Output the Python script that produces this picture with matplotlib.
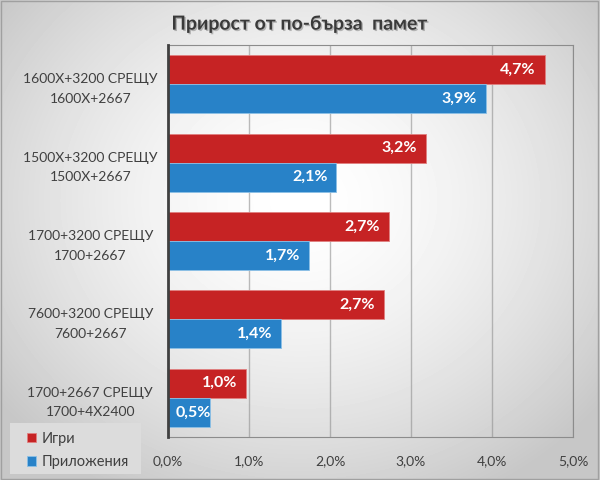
import numpy as np
import matplotlib.pyplot as plt
import matplotlib.patheffects as pe

categories = ['1600X+3200 СРЕЩУ\n1600X+2667',
              '1500X+3200 СРЕЩУ\n1500X+2667',
              '1700+3200 СРЕЩУ\n1700+2667',
              '7600+3200 СРЕЩУ\n7600+2667',
              '1700+2667 СРЕЩУ\n1700+4X2400']
games = [4.65, 3.18, 2.73, 2.67, 0.96]
apps = [3.92, 2.08, 1.74, 1.40, 0.52]
series_names = ['Игри', 'Приложения']
ticks = [0, 1, 2, 3, 4, 5]

red = '#C62324'
blue = '#2882C8'
plt.rcParams['font.family'] = ['Lato', 'DejaVu Sans']

fig = plt.figure(figsize=(6, 4.8), dpi=100)

# radial grey background
bg = fig.add_axes([0, 0, 1, 1], zorder=-10)
yy, xx = np.mgrid[0:480, 0:600]
r = np.sqrt(((xx - 300) / 380.0) ** 2 + ((yy - 200) / 330.0) ** 2)
shade = 1.0 - 0.22 * np.clip(r, 0, 1) ** 1.6
bg.imshow(shade, cmap='gray', vmin=0, vmax=1, aspect='auto')
bg.axis('off')
fig.patches.append(plt.Rectangle((0.002, 0.002), 0.995, 0.995, transform=fig.transFigure,
                                 fill=False, edgecolor='#A0A0A0', lw=1))

ax = fig.add_axes([168 / 600, 1 - 437 / 480, (573 - 168) / 600, (437 - 45) / 480])
ax.patch.set_alpha(0)

y = np.arange(len(categories))
h = 0.37
b1 = ax.barh(y - h / 2, games, height=h, color=red, edgecolor='#E08080', lw=0.6, label=series_names[0], zorder=3)
b2 = ax.barh(y + h / 2, apps, height=h, color=blue, edgecolor='#8CC0E6', lw=0.6, label=series_names[1], zorder=3)

for bars, vals in ((b1, games), (b2, apps)):
    for bar, v in zip(bars, vals):
        txt = ('%.1f%%' % v).replace('.', ',')
        yc = bar.get_y() + bar.get_height() / 2
        if v < 0.8:
            ax.text(0.09, yc, txt, ha='left', va='center', color='white',
                    fontsize=11.5, fontweight='bold', zorder=4)
        else:
            ax.text(v - 0.11, yc, txt, ha='right', va='center', color='white',
                    fontsize=11.5, fontweight='bold', zorder=4)

ax.set_ylim(len(categories) - 0.5, -0.5)
ax.set_xlim(0, 5)
ax.set_xticks(ticks)
ax.set_xticklabels([('%.1f%%' % t).replace('.', ',') for t in ticks], fontsize=10, color='#404040')
ax.set_yticks(y)
ax.set_yticklabels(categories, fontsize=10, color='#404040', linespacing=1.75, ha='center')
ax.tick_params(axis='y', length=0, pad=56)
ax.tick_params(axis='x', length=0, pad=13)
ax.xaxis.grid(True, color='#909090', alpha=0.6, lw=1, zorder=0)

for s in ('top', 'right', 'bottom'):
    ax.spines[s].set_color('#8C8C8C')
ax.spines['left'].set_color('#404040')
ax.spines['left'].set_linewidth(2)
ax.spines['left'].set_zorder(5)

fig.text(0.5, 1 - 24 / 480, 'Прирост от по-бърза  памет', ha='center', va='center',
         fontsize=14, fontweight='bold', color='#3A3A3A',
         path_effects=[pe.withSimplePatchShadow(offset=(1, -1), alpha=0.25)])

# legend box
fig.patches.append(plt.Rectangle((10 / 600, 1 - 474 / 480), 131 / 600, 51 / 480,
                                 transform=fig.transFigure, facecolor='#DCDCDC',
                                 edgecolor='none', zorder=1))
leg = fig.legend(loc='upper left', bbox_to_anchor=(15 / 600, 1 - 420 / 480), frameon=False,
                 fontsize=10.5, handlelength=0.65, handleheight=0.65, handletextpad=0.35,
                 labelspacing=0.65, borderpad=0.3)
for t in leg.get_texts():
    t.set_color('#404040')

fig.savefig('out.png', dpi=100)
